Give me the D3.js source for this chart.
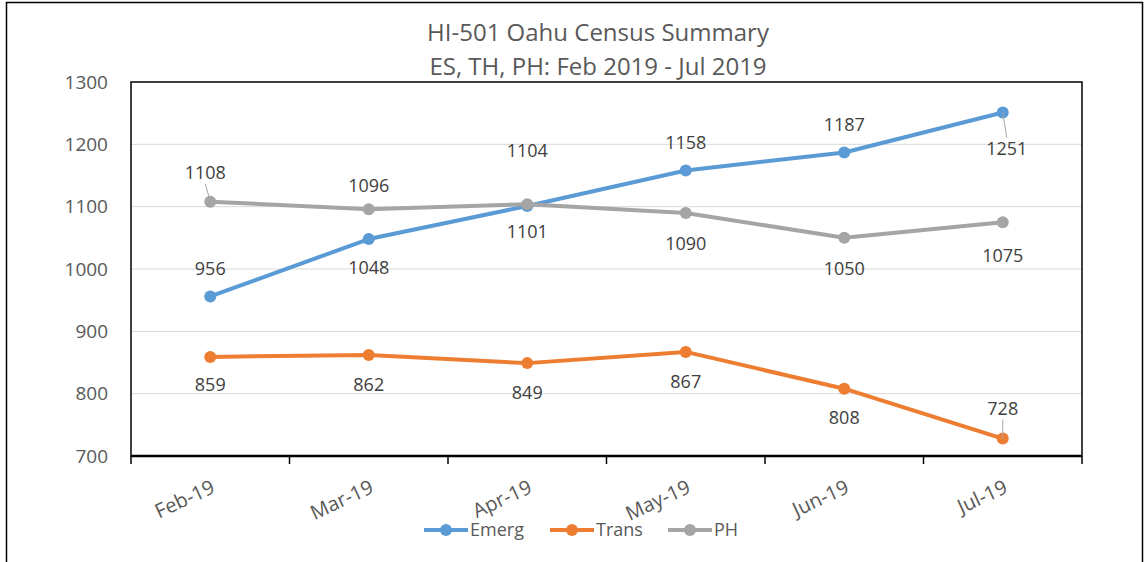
<!DOCTYPE html>
<html>
<head>
<title>HI-501 Oahu Census Summary</title>
<script src="https://d3js.org/d3.v7.min.js"></script>
<style>
  body { margin: 0; background: #fff; }
  text { font-family: "Open Sans", sans-serif; }
</style>
</head>
<body>
<svg id="chart" width="1146" height="562"></svg>
<script>
// data
const months = ["Feb-19", "Mar-19", "Apr-19", "May-19", "Jun-19", "Jul-19"]
const emerg = [956, 1048, 1101, 1158, 1187, 1251]
const trans = [859, 862, 849, 867, 808, 728]
const ph = [1108, 1096, 1104, 1090, 1050, 1075]
const yTicks = [700, 800, 900, 1000, 1100, 1200, 1300]

const series = [
  { name: "Emerg", values: emerg, color: "#5B9BD5" },
  { name: "Trans", values: trans, color: "#ED7D31" },
  { name: "PH", values: ph, color: "#A5A5A5" }
]

// label offsets (px from point, y) -- like excel's manual nudges
const labelDy = {
  Emerg: [-28, 29, 26, -28, -28, 36],
  Trans: [28, 30, 30, 30, 29, -30],
  PH: [-29, -23, -53, 31, 31, 33]
}
const labelDx = {
  Emerg: [0, 0, 0, 0, 0, 4],
  Trans: [0, 0, 0, 0, 0, 0],
  PH: [-5, 0, 0, 0, 0, 0]
}
// which labels get a leader line
const leaders = { Emerg: [5], Trans: [5], PH: [0] }

const svg = d3.select("#chart")
const plot = { left: 131, top: 82, width: 951, height: 374 }

// outer frame
svg.append("rect")
  .attr("x", 6.5).attr("y", 2.5)
  .attr("width", 1136).attr("height", 600)
  .attr("fill", "none").attr("stroke", "#000").attr("stroke-width", 1.5)

// titles
svg.append("text").attr("x", 598).attr("y", 41)
  .attr("text-anchor", "middle").attr("font-size", 24).attr("fill", "#595959")
  .text("HI-501 Oahu Census Summary")
svg.append("text").attr("x", 598).attr("y", 75)
  .attr("text-anchor", "middle").attr("font-size", 24).attr("fill", "#595959")
  .text("ES, TH, PH: Feb 2019 - Jul 2019")

const x = d3.scaleBand().domain(months).range([0, plot.width])
const y = d3.scaleLinear().domain([700, 1300]).range([plot.height, 0])

const body = svg.append("g").attr("transform", `translate(${plot.left},${plot.top})`)

// gridlines
body.selectAll("line.grid").data(yTicks.slice(1, -1))
  .enter().append("line")
  .attr("class", "grid")
  .attr("x1", 0).attr("x2", plot.width)
  .attr("y1", d => y(d)).attr("y2", d => y(d))
  .attr("stroke", "#d9d9d9").attr("stroke-width", 1)

// plot border
body.append("rect")
  .attr("x", 0).attr("y", 0)
  .attr("width", plot.width).attr("height", plot.height)
  .attr("fill", "none").attr("stroke", "#000").attr("stroke-width", 1.5)

// y axis
let yAxis = d3.axisLeft(y).tickValues(yTicks).tickFormat(d3.format("d")).tickSize(0).tickPadding(23)
let yg = body.append("g").call(yAxis)
yg.select(".domain").remove()
yg.selectAll("text").attr("font-size", 19).attr("fill", "#595959")
  .style("font-family", "'Open Sans', sans-serif")

// x axis
let xTickPos = months.map(m => x(m)).concat([plot.width])
let xg = body.append("g").attr("transform", `translate(0,${plot.height})`)
xg.append("line").attr("x1", 0).attr("x2", plot.width)
  .attr("stroke", "#000").attr("stroke-width", 2.5)
xg.selectAll("line.tick").data(xTickPos)
  .enter().append("line")
  .attr("class", "tick")
  .attr("x1", d => d).attr("x2", d => d)
  .attr("y1", 0).attr("y2", 8)
  .attr("stroke", "#000").attr("stroke-width", 1.5)
xg.selectAll("text").data(months)
  .enter().append("text")
  .attr("transform", d => `translate(${x(d) + x.bandwidth() / 2 + 6},${36}) rotate(-25)`)
  .attr("text-anchor", "end")
  .attr("font-size", 20).attr("fill", "#595959")
  .text(d => d)

const line = d3.line()
  .x((d, i) => x(months[i]) + x.bandwidth() / 2)
  .y(d => y(d))

for (let s of series) {
  body.append("path")
    .attr("d", line(s.values))
    .attr("fill", "none").attr("stroke", s.color)
    .attr("stroke-width", 4).attr("stroke-linejoin", "round")
  body.selectAll(null).data(s.values)
    .enter().append("circle")
    .attr("cx", (d, i) => x(months[i]) + x.bandwidth() / 2)
    .attr("cy", d => y(d))
    .attr("r", 6).attr("fill", s.color)
}

// data labels (drawn after all lines so they sit on top)
for (let s of series) {
  let dy = labelDy[s.name], dx = labelDx[s.name]
  for (let i of leaders[s.name]) {
    let cx = x(months[i]) + x.bandwidth() / 2, cy = y(s.values[i])
    let sgn = dy[i] > 0 ? 1 : -1
    body.append("line")
      .attr("x1", cx).attr("y1", cy)
      .attr("x2", cx + dx[i]).attr("y2", cy + dy[i] - sgn * 11)
      .attr("stroke", "#a6a6a6").attr("stroke-width", 1)
  }
  body.selectAll(null).data(s.values)
    .enter().append("text")
    .attr("x", (d, i) => x(months[i]) + x.bandwidth() / 2 + dx[i])
    .attr("y", (d, i) => y(d) + dy[i])
    .attr("dy", "0.35em")
    .attr("text-anchor", "middle")
    .attr("font-size", 18).attr("fill", "#404040")
    .text(d => d)
}

// legend
let legend = svg.append("g").attr("transform", "translate(424,530)")
let lx = [0, 126, 244]
series.forEach((s, i) => {
  let g = legend.append("g").attr("transform", `translate(${lx[i]},0)`)
  g.append("line").attr("x1", 0).attr("x2", 44)
    .attr("stroke", s.color).attr("stroke-width", 4)
  g.append("circle").attr("cx", 22).attr("r", 6).attr("fill", s.color)
  g.append("text").attr("x", 46).attr("dy", "0.35em")
    .attr("font-size", 18).attr("fill", "#595959").text(s.name)
})
</script>
</body>
</html>
